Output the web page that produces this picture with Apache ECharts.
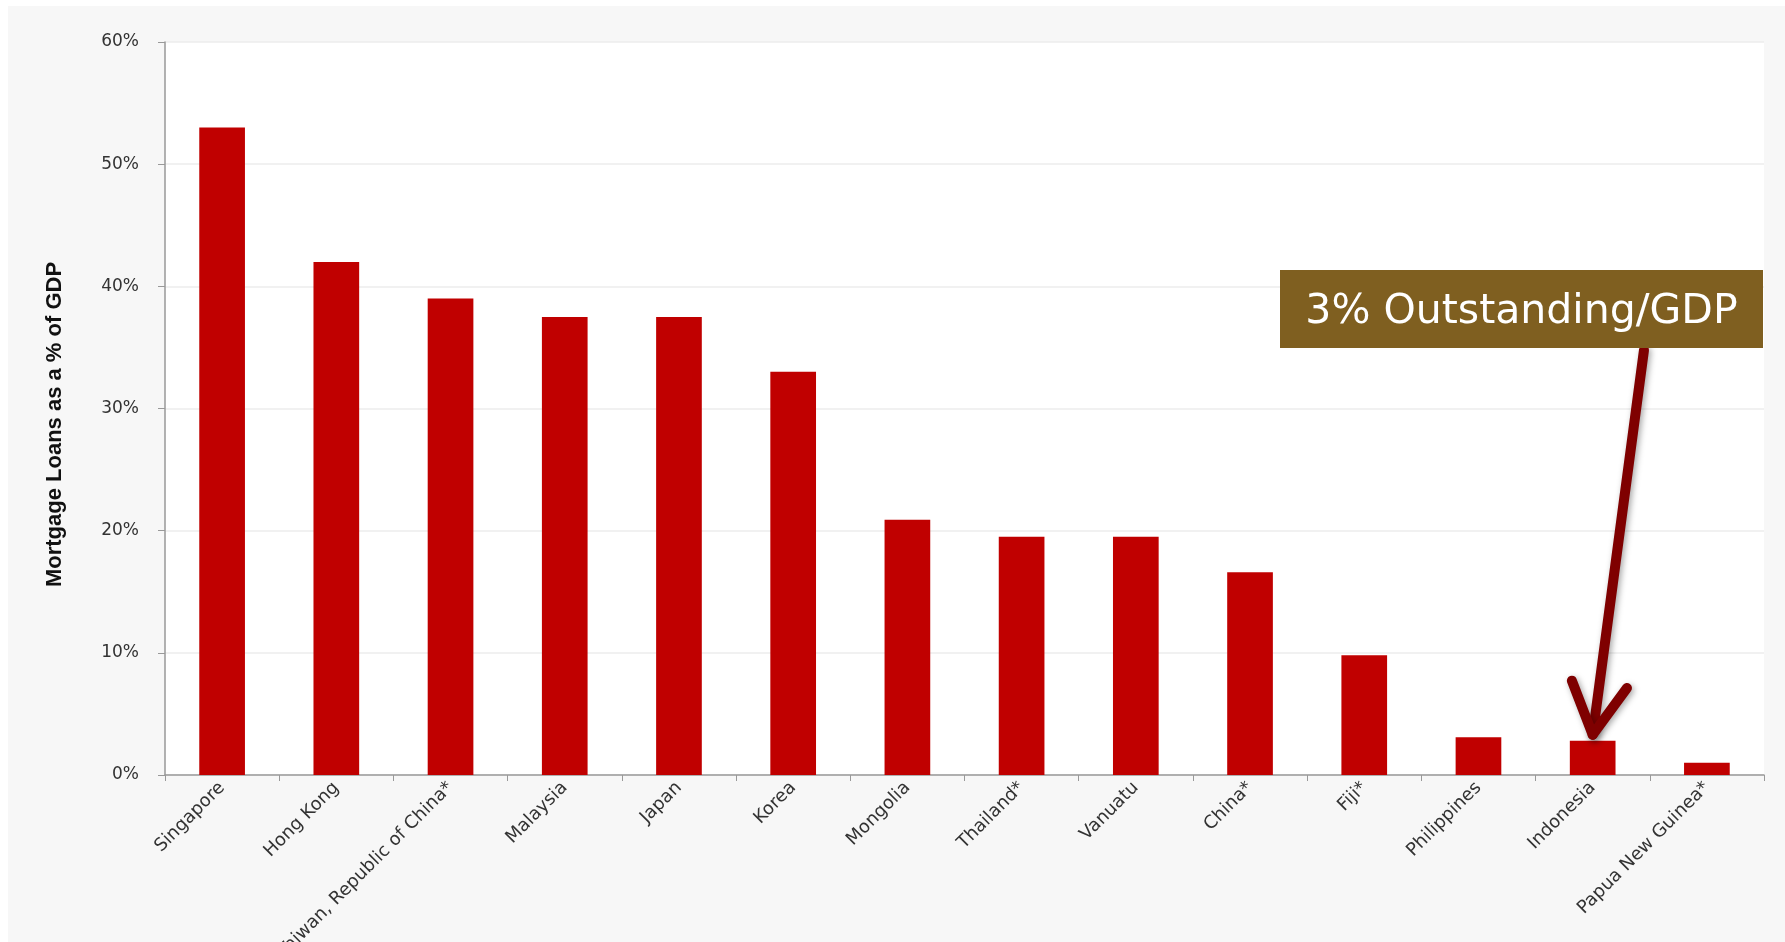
<!DOCTYPE html>
<html>
<head>
<meta charset="utf-8">
<script src="https://cdn.jsdelivr.net/npm/echarts@6/dist/echarts.min.js"></script>
<style>
  html, body { margin: 0; padding: 0; background: #fff; }
  #chart { position: absolute; left: 8px; top: 6px; width: 1777px; height: 936px; background: #f7f7f7; }
</style>
</head>
<body>
<div id="chart"></div>
<script>
const countries = ['Singapore', 'Hong Kong', 'Taiwan, Republic of China*', 'Malaysia', 'Japan', 'Korea',
  'Mongolia', 'Thailand*', 'Vanuatu', 'China*', 'Fiji*', 'Philippines', 'Indonesia', 'Papua New Guinea*']
const mortgageShare = [53, 42, 39, 37.5, 37.5, 33, 20.9, 19.5, 19.5, 16.6, 9.8, 3.1, 2.8, 1.0]
const yTicks = { min: 0, max: 60, interval: 10 }
const calloutText = '3% Outstanding/GDP'
const calloutCountry = 'Indonesia'

const chart = echarts.init(document.getElementById('chart'))

const option = {
  animation: false,
  grid: {
    show: true,
    left: 157,
    right: 21,
    top: 36,
    bottom: 167,
    containLabel: false,
    outerBoundsMode: 'none',
    backgroundColor: '#fff',
    borderWidth: 0
  },
  xAxis: {
    type: 'category',
    data: countries,
    boundaryGap: true,
    axisLine: { lineStyle: { color: '#999', width: 1.5 } },
    axisTick: { show: true, length: 6, lineStyle: { color: '#999' } },
    axisLabel: {
      interval: 0,
      rotate: 45,
      margin: 10,
      fontSize: 18,
      fontFamily: 'DejaVu Sans',
      color: '#333'
    }
  },
  yAxis: {
    type: 'value',
    min: yTicks.min,
    max: yTicks.max,
    interval: yTicks.interval,
    name: 'Mortgage Loans as a % of GDP',
    nameLocation: 'middle',
    nameGap: 99,
    nameTextStyle: {
      fontSize: 22,
      fontWeight: 'bold',
      fontFamily: 'Liberation Sans',
      color: '#111',
      padding: [0, 32, 0, 0]
    },
    axisLine: { show: true, lineStyle: { color: '#999', width: 1.5 } },
    axisTick: { show: true, length: 7, lineStyle: { color: '#999' } },
    axisLabel: {
      formatter: '{value}%',
      fontSize: 17,
      fontFamily: 'DejaVu Sans',
      color: '#333',
      margin: 26
    },
    splitLine: { lineStyle: { color: '#ececec', width: 1.5 } }
  },
  series: [{
    type: 'bar',
    data: mortgageShare,
    barWidth: '40%',
    itemStyle: { color: '#c00000' }
  }]
}
chart.setOption(option)

// callout box and arrow pointing at the Indonesia bar
const idx = countries.indexOf(calloutCountry)
const tip = chart.convertToPixel({ seriesIndex: 0 }, [idx, mortgageShare[idx]])
tip[1] -= 6
const box = { x: 1272, y: 264, w: 483, h: 78 }
const start = [box.x + 364, box.y + box.h + 2]
const ang = Math.atan2(start[1] - tip[1], start[0] - tip[0])
const wingLen = 58
const spread = 0.5
const wingA = [tip[0] + wingLen * Math.cos(ang + spread), tip[1] + wingLen * Math.sin(ang + spread)]
const wingB = [tip[0] + wingLen * Math.cos(ang - spread), tip[1] + wingLen * Math.sin(ang - spread)]
const arrowStyle = {
  stroke: '#7f0000',
  lineWidth: 10,
  lineCap: 'round',
  lineJoin: 'round',
  fill: null,
  shadowBlur: 6,
  shadowColor: 'rgba(0,0,0,0.35)',
  shadowOffsetX: 2,
  shadowOffsetY: 2
}

chart.setOption({
  graphic: [
    {
      type: 'rect',
      shape: { x: box.x, y: box.y, width: box.w, height: box.h },
      style: { fill: '#7f5f20' },
      z: 100
    },
    {
      type: 'text',
      x: box.x + box.w / 2,
      y: box.y + box.h / 2 + 3,
      style: {
        text: calloutText,
        fill: '#fff',
        font: '41px "DejaVu Sans"',
        align: 'center',
        verticalAlign: 'middle'
      },
      z: 101
    },
    {
      type: 'polyline',
      shape: { points: [start, tip] },
      style: arrowStyle,
      z: 99
    },
    {
      type: 'polyline',
      shape: { points: [wingA, tip, wingB] },
      style: arrowStyle,
      z: 99
    }
  ]
})
</script>
</body>
</html>
